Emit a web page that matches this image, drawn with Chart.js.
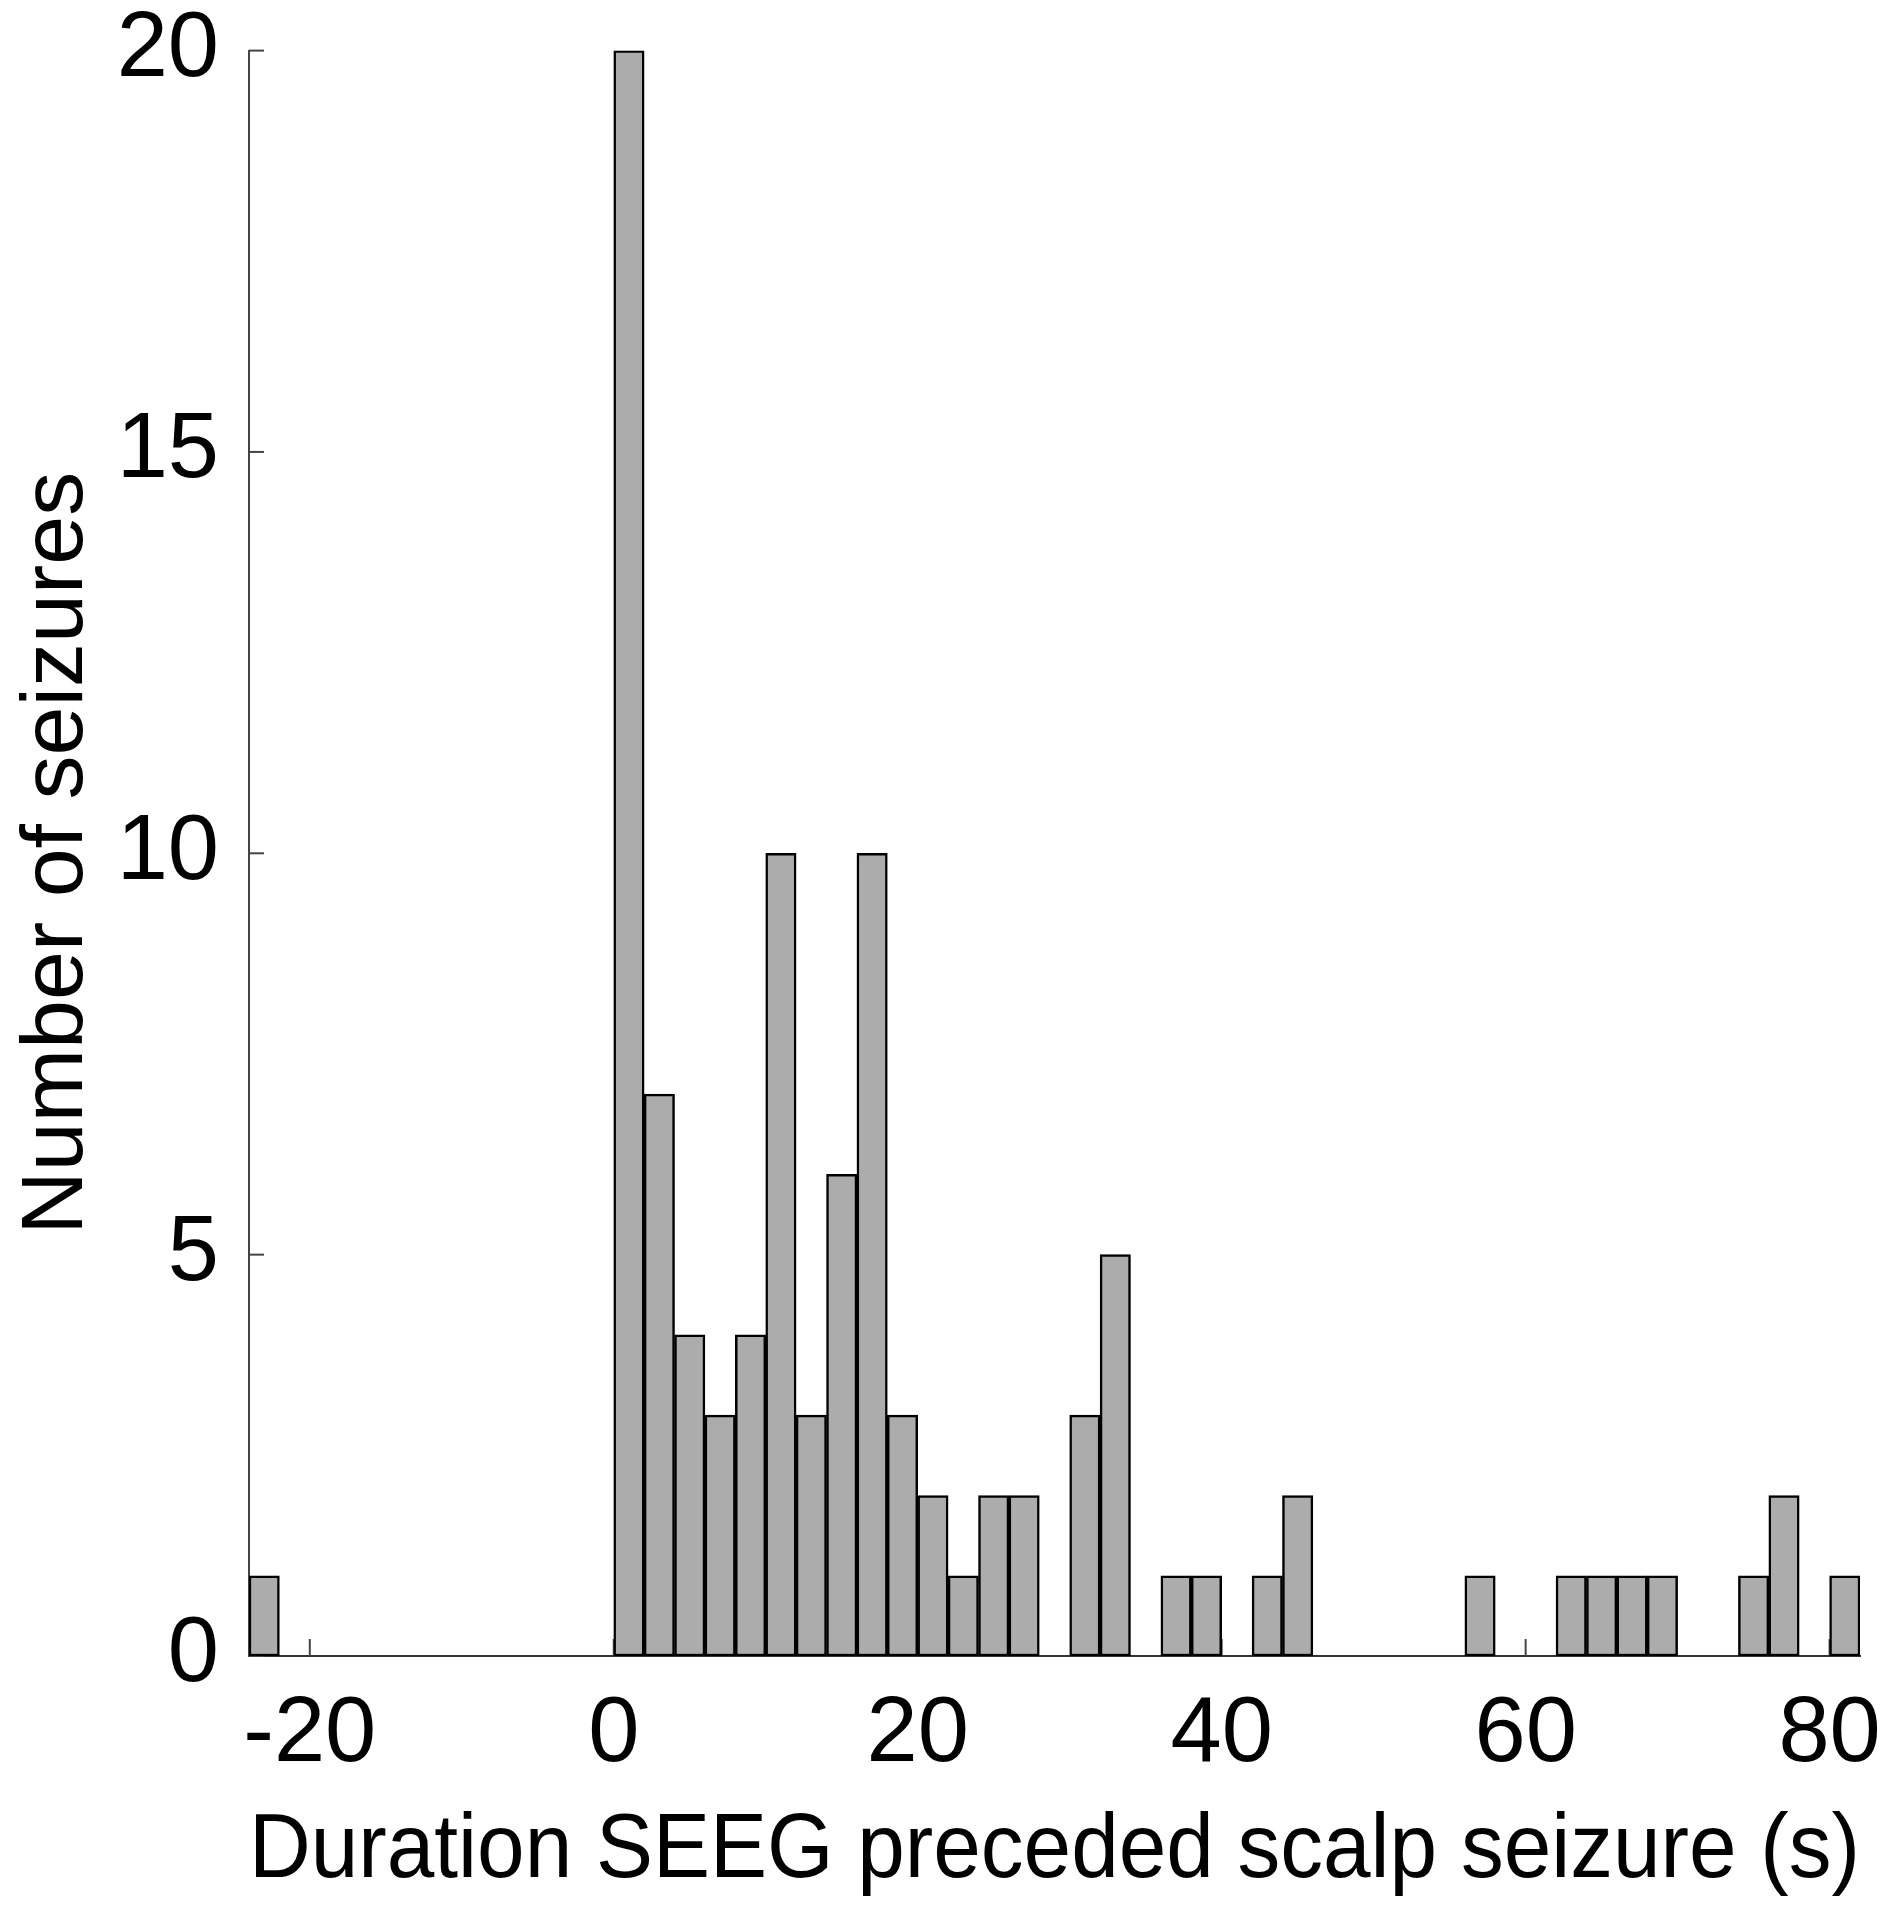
<!DOCTYPE html>
<html>
<head>
<meta charset="utf-8">
<script src="https://cdn.jsdelivr.net/npm/chart.js@4.4.1/dist/chart.umd.min.js"></script>
<style>
    html, body { margin: 0; padding: 0; background: #ffffff; }
    #wrap { width: 1902px; height: 1920px; position: relative; }
</style>
</head>
<body>
<div id="wrap"><canvas id="histChart"></canvas></div>
<script>
// bin centres (2 s wide bins, -24 .. 82)
const binCenters = [-23, -21, -19, -17, -15, -13, -11, -9, -7, -5, -3, -1,
    1, 3, 5, 7, 9, 11, 13, 15, 17, 19, 21, 23, 25, 27, 29, 31, 33, 35, 37, 39,
    41, 43, 45, 47, 49, 51, 53, 55, 57, 59, 61, 63, 65, 67, 69, 71, 73, 75, 77, 79, 81];
const seizureCounts = [1, 0, 0, 0, 0, 0, 0, 0, 0, 0, 0, 0,
    20, 7, 4, 3, 4, 10, 3, 6, 10, 3, 2, 1, 2, 2, 0, 3, 5, 0, 1, 1,
    0, 1, 2, 0, 0, 0, 0, 0, 1, 0, 0, 1, 1, 1, 1, 0, 0, 1, 2, 0, 1];
const xTickValues = [-20, 0, 20, 40, 60, 80];
const yTickValues = [0, 5, 10, 15, 20];

const FONT = 'Liberation Sans, Arial, sans-serif';

// small tick marks drawn inside the axes, under the bars
const inwardTicks = {
    id: 'inwardTicks',
    beforeDatasetsDraw(chart) {
        const ctx = chart.ctx;
        const xs = chart.scales.x, ys = chart.scales.y;
        ctx.save();
        ctx.strokeStyle = '#444444';
        ctx.lineWidth = 2;
        xTickValues.forEach(function (v) {
            const px = xs.getPixelForValue(v);
            ctx.beginPath();
            ctx.moveTo(px, ys.bottom);
            ctx.lineTo(px, ys.bottom - 17);
            ctx.stroke();
        });
        yTickValues.forEach(function (v) {
            const py = ys.getPixelForValue(v);
            ctx.beginPath();
            ctx.moveTo(xs.left, py);
            ctx.lineTo(xs.left + 15, py);
            ctx.stroke();
        });
        ctx.restore();
    }
};

const points = binCenters.map(function (c, i) { return { x: c, y: seizureCounts[i] }; });

new Chart(document.getElementById('histChart').getContext('2d'), {
    type: 'bar',
    data: {
        datasets: [{
            label: 'Number of seizures',
            data: points,
            backgroundColor: '#acacac',
            borderColor: '#000000',
            borderWidth: 2.5,
            borderSkipped: false,
            barPercentage: 1,
            categoryPercentage: 1
        }]
    },
    options: {
        responsive: true,
        maintainAspectRatio: false,
        animation: false,
        layout: { padding: { top: 0, right: 42, bottom: 0, left: 0 } },
        plugins: {
            legend: { display: false },
            tooltip: { enabled: false }
        },
        scales: {
            x: {
                type: 'linear',
                offset: false,
                min: -24,
                max: 82,
                afterBuildTicks: function (scale) {
                    scale.ticks = xTickValues.map(function (v) { return { value: v }; });
                },
                afterFit: function (scale) { scale.height = 264; },
                grid: { display: false, drawTicks: true, tickLength: 29 },
                border: { display: true, color: '#333333', width: 2 },
                ticks: {
                    color: '#000000',
                    padding: 0,
                    maxRotation: 0,
                    autoSkip: false,
                    font: { family: FONT, size: 92, lineHeight: 1.1 }
                },
                title: {
                    display: true,
                    text: 'Duration SEEG preceded scalp seizure (s)',
                    color: '#000000',
                    padding: { top: 0, bottom: 14 },
                    font: { family: FONT, size: 90 }
                }
            },
            y: {
                min: 0,
                max: 20,
                afterBuildTicks: function (scale) {
                    scale.ticks = yTickValues.map(function (v) { return { value: v }; });
                },
                afterFit: function (scale) { scale.width = 249; },
                grid: { display: false, drawTicks: true, tickLength: 30 },
                border: { display: true, color: '#444444', width: 2 },
                ticks: {
                    color: '#000000',
                    padding: 0,
                    font: { family: FONT, size: 92, lineHeight: 1.1 }
                },
                title: {
                    display: true,
                    text: 'Number of seizures',
                    color: '#000000',
                    padding: { top: 5, bottom: 0 },
                    font: { family: FONT, size: 88 }
                }
            }
        }
    },
    plugins: [inwardTicks]
});
</script>
</body>
</html>
